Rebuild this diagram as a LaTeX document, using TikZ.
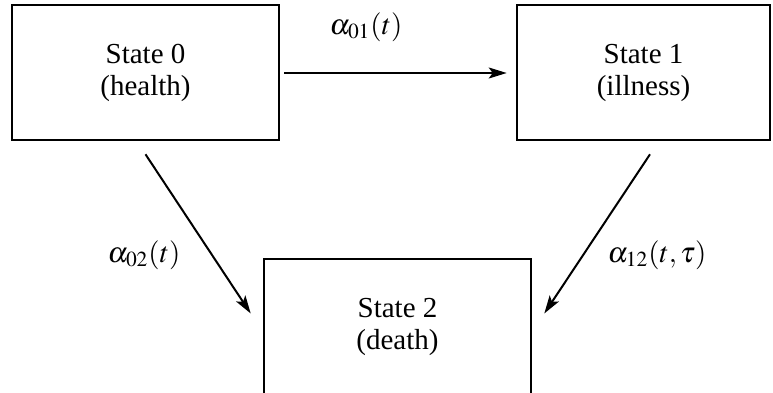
\documentclass[tikz,border=0pt]{standalone}
\usepackage{mathptmx}
\usepackage{fontspec}
\setmainfont{Liberation Serif}
\usetikzlibrary{arrows.meta}
\usetikzlibrary{calc}

\begin{document}
\begin{tikzpicture}[x=0.5pt,y=0.5pt]
\tikzset{
    state/.style={
        draw,
        rectangle,
        line width=1.3pt,
        minimum width=#1,
        minimum height=67.5pt,
        align=center,
        font=\fontsize{14.5}{16}\selectfont,
    },
    state/.default=133.5pt,
    trans/.style={
        -{Stealth[length=9pt,width=5.5pt,inset=2pt]},
        line width=1pt,
    },
    rate/.style={
        font=\fontsize{14.5}{16}\selectfont,
    },
}
\useasboundingbox (0,0) rectangle (773,392);
\node[state] (health) at (145.5,319.5) {State 0\\(health)};
\node[state=126.5pt] (illness) at (643.5,319.5) {State 1\\(illness)};
\node[state] (death) at (397.5,65.5) {State 2\\(death)};
\draw[trans] ($(health.east)+(4,-0.5)$) -- ($(illness.west)+(-9,-0.5)$);
\draw[trans] ($(health.south)+(0,-13)$) -- ($(death.west)+(-12,13)$);
\draw[trans] ($(illness.south)+(6.5,-13)$) -- ($(death.east)+(12,13)$);
\node[rate] (r01) at (366,365) {$\alpha_{01}(t)$};
\node[rate] (r02) at (144,137) {$\alpha_{02}(t)$};
\node[rate] (r12) at (657,137) {$\alpha_{12}(t,\tau)$};
\end{tikzpicture}
\end{document}
